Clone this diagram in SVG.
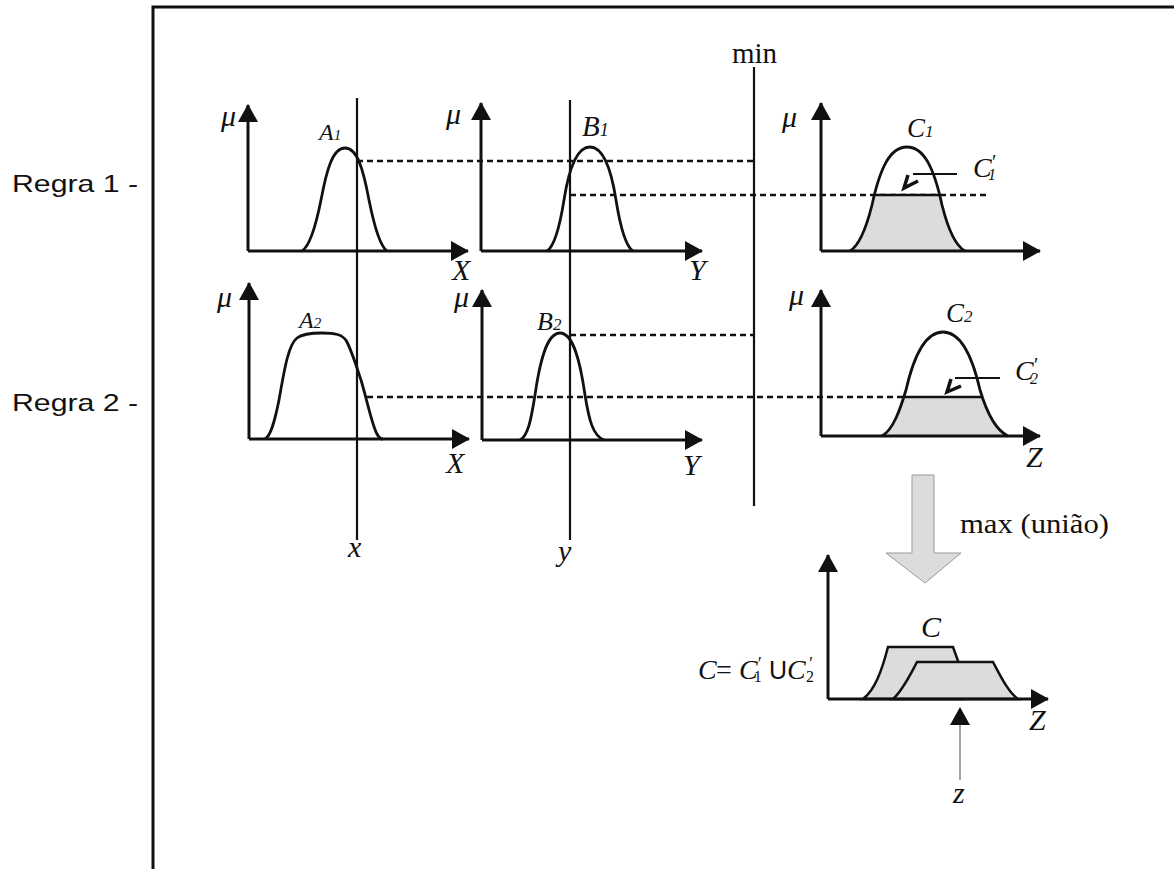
<svg xmlns="http://www.w3.org/2000/svg" width="1174" height="869" viewBox="0 0 1174 869">
<defs>
<marker id="ah" viewBox="0 0 18 20" refX="17" refY="10" markerWidth="18" markerHeight="20" markerUnits="userSpaceOnUse" orient="auto">
<path d="M0,0 L18,10 L0,20 Z" fill="#111"/>
</marker>
<clipPath id="clipC1"><path d="M850,251 C860,245 867,225 872,205 C880,168 890,147 907,147 C924,147 934,168 942,205 C947,225 954,245 965,251 Z"/></clipPath>
<clipPath id="clipC2"><path d="M882,436 C893,430 900,410 906,390 C914,355 926,332 943,332 C960,332 972,355 980,390 C986,410 995,430 1008,436 Z"/></clipPath>
</defs>
<style>
.ax{stroke:#111;stroke-width:3;fill:none;marker-end:url(#ah)}
.cv{stroke:#111;stroke-width:2.8;fill:none}
.vl{stroke:#111;stroke-width:2.2;fill:none}
.dl{stroke:#111;stroke-width:2.5;stroke-dasharray:6 4;fill:none}
.gf{fill:#dcdcdc}
.it{font-family:"Liberation Serif",serif;font-style:italic;fill:#111}
.rm{font-family:"Liberation Serif",serif;font-style:normal;fill:#111}
.sn{font-family:"Liberation Sans",sans-serif;font-style:normal;fill:#111}
.pt{stroke:#111;stroke-width:2.2;fill:none}
.ph{stroke:#111;stroke-width:3.5;fill:none;stroke-linejoin:miter}
</style>
<rect width="1174" height="869" fill="#fff"/>
<path d="M153,869 L153,7 L1174,7" stroke="#111" stroke-width="3" fill="none"/>

<g id="labels">
<text class="sn" x="12" y="192" font-size="24" textLength="126" lengthAdjust="spacingAndGlyphs">Regra 1 -</text>
<text class="sn" x="12" y="411" font-size="24" textLength="126" lengthAdjust="spacingAndGlyphs">Regra 2 -</text>
<text class="rm" x="732" y="63" font-size="29">min</text>
<text class="rm" x="960" y="533" font-size="27" textLength="149" lengthAdjust="spacingAndGlyphs">max (união)</text>
</g>

<g id="connectors">
<line class="vl" x1="357" y1="98" x2="357" y2="540"/>
<line class="vl" x1="570" y1="100" x2="570" y2="540"/>
<line class="vl" x1="754" y1="67" x2="754" y2="506"/>
<line class="dl" x1="357" y1="161" x2="754" y2="161"/>
<line class="dl" x1="570" y1="195" x2="988" y2="195"/>
<line class="dl" x1="570" y1="335" x2="754" y2="335"/>
<line class="dl" x1="367" y1="397" x2="905" y2="397"/>
<text class="it" x="348" y="557" font-size="30">x</text>
<text class="it" x="558" y="561" font-size="30">y</text>
</g>

<g id="graph-A1">
<path class="ax" d="M248,251 L248,105"/>
<path class="ax" d="M248,251 L468,251"/>
<path class="cv" d="M302,251 C310,246 316,225 321,200 C327,168 333,148 345,148 C357,148 363,168 369,200 C374,225 380,246 387,251"/>
<text class="it" x="221" y="126" font-size="30">μ</text>
<text class="it" x="319" y="140" font-size="24">A<tspan font-size="15">1</tspan></text>
<text class="it" x="452" y="280" font-size="30">X</text>
</g>

<g id="graph-B1">
<path class="ax" d="M481,251 L481,103"/>
<path class="ax" d="M481,251 L702,251"/>
<path class="cv" d="M547,251 C555,246 560,225 564,200 C569,168 577,147 590,147 C603,147 611,168 616,200 C620,225 625,246 633,251"/>
<text class="it" x="446" y="124" font-size="30">μ</text>
<text class="it" x="582" y="136" font-size="29">B<tspan font-size="18">1</tspan></text>
<text class="it" x="689" y="280" font-size="30">Y</text>
</g>

<g id="graph-C1">
<rect class="gf" x="840" y="195" width="140" height="56" clip-path="url(#clipC1)"/>
<line x1="840" y1="195" x2="980" y2="195" stroke="#111" stroke-width="2.5" clip-path="url(#clipC1)"/>
<path class="ax" d="M821,251 L821,103"/>
<path class="ax" d="M821,251 L1040,251"/>
<path class="cv" d="M850,251 C860,245 867,225 872,205 C880,168 890,147 907,147 C924,147 934,168 942,205 C947,225 954,245 965,251"/>
<text class="it" x="782" y="127" font-size="30">μ</text>
<text class="it" x="907" y="137" font-size="27">C<tspan font-size="17">1</tspan></text>
<line class="pt" x1="957" y1="174" x2="913" y2="174"/>
<path class="ph" d="M908,175 L904,188 L918,181"/>
<text class="it" x="973" y="177" font-size="28">C<tspan font-size="20" dx="-1" dy="-8">′</tspan><tspan font-size="16" dx="-7" dy="11">1</tspan></text>
</g>

<g id="graph-A2">
<path class="ax" d="M249,439 L249,283"/>
<path class="ax" d="M249,439 L469,439"/>
<path class="cv" d="M265,439 C271,436 275,420 279,400 C284,372 288,345 297,338 C302,334 310,333 322,333 C334,333 343,334 347,342 C352,352 356,365 361,380 C367,400 372,425 377,434 C379,438 381,439 383,439"/>
<text class="it" x="217" y="307" font-size="30">μ</text>
<text class="it" x="299" y="328" font-size="24">A<tspan font-size="15">2</tspan></text>
<text class="it" x="446" y="473" font-size="30">X</text>
</g>

<g id="graph-B2">
<path class="ax" d="M482,440 L482,290"/>
<path class="ax" d="M482,440 L702,440"/>
<path class="cv" d="M520,440 C528,436 531,420 535,395 C540,360 547,333 560,333 C573,333 580,360 585,395 C589,420 593,436 604,440"/>
<text class="it" x="454" y="307" font-size="30">μ</text>
<text class="it" x="537" y="330" font-size="26">B<tspan font-size="17">2</tspan></text>
<text class="it" x="683" y="475" font-size="30">Y</text>
</g>

<g id="graph-C2">
<rect class="gf" x="870" y="397" width="150" height="39" clip-path="url(#clipC2)"/>
<line x1="870" y1="397" x2="1020" y2="397" stroke="#111" stroke-width="2.5" clip-path="url(#clipC2)"/>
<path class="ax" d="M821,436 L821,290"/>
<path class="ax" d="M821,436 L1040,436"/>
<path class="cv" d="M882,436 C893,430 900,410 906,390 C914,355 926,332 943,332 C960,332 972,355 980,390 C986,410 995,430 1008,436"/>
<text class="it" x="789" y="305" font-size="30">μ</text>
<text class="it" x="946" y="322" font-size="27">C<tspan font-size="17">2</tspan></text>
<line class="pt" x1="1000" y1="378" x2="955" y2="378"/>
<path class="ph" d="M951,379 L947,392 L961,386"/>
<text class="it" x="1015" y="380" font-size="28">C<tspan font-size="20" dx="-1" dy="-8">′</tspan><tspan font-size="16" dx="-7" dy="12">2</tspan></text>
<text class="it" x="1026" y="467" font-size="30">Z</text>
</g>

<g id="max-arrow">
<path d="M912,475 L934,475 L934,553 L961,553 L925,583 L886,553 L912,553 Z" fill="#dcdcdc" stroke="#999" stroke-width="1"/>
</g>

<g id="graph-C">
<path d="M863,699 C875,690 882,670 888,647 L953,647 L962,672 L962,699 Z" fill="#dcdcdc" stroke="#111" stroke-width="2.5"/>
<path d="M893,699 C903,690 910,675 917,662 L993,662 C1000,675 1008,692 1018,699 Z" fill="#dcdcdc" stroke="#111" stroke-width="2.5"/>
<path class="ax" d="M828,699 L828,555"/>
<path class="ax" d="M828,699 L1048,699"/>
<text class="it" x="921" y="637" font-size="30">C</text>
<text class="it" x="1029" y="730" font-size="30">Z</text>
<text class="it" x="698" y="679" font-size="28">C<tspan class="rm" x="716">=</tspan><tspan x="739">C</tspan><tspan font-size="18" dx="-1" dy="-9">′</tspan><tspan class="rm" font-size="16" dx="-7" dy="12">1</tspan><tspan class="sn" font-size="25" x="769" dy="-3">U</tspan><tspan x="787">C</tspan><tspan font-size="18" x="808" dy="-9">′</tspan><tspan class="rm" font-size="16" x="806" dy="12">2</tspan></text>
<line x1="960" y1="780" x2="960" y2="722" stroke="#888" stroke-width="1.5"/>
<path d="M950,725 L970,725 L960,707 Z" fill="#111"/>
<text class="it" x="953" y="803" font-size="30">z</text>
</g>
</svg>
